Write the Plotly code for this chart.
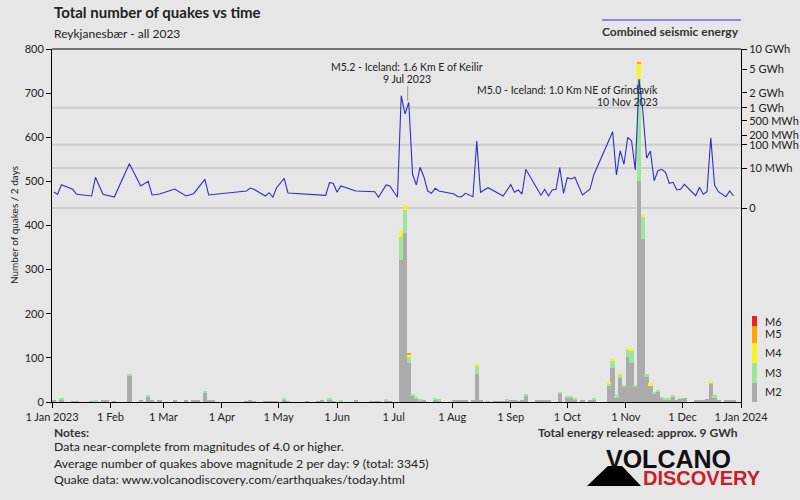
import plotly.graph_objects as go

# ---------------- data ----------------
bar_dates = [
    "2023-01-02", "2023-01-06", "2023-01-12", "2023-01-14", "2023-01-22", "2023-01-24", "2023-01-28", "2023-01-30",
    "2023-02-03", "2023-02-11", "2023-02-17", "2023-02-21", "2023-02-23", "2023-02-27",
    "2023-03-07", "2023-03-13", "2023-03-17", "2023-03-19", "2023-03-23", "2023-03-25", "2023-03-27",
    "2023-04-14", "2023-04-16", "2023-04-18", "2023-04-24", "2023-04-26", "2023-04-28", "2023-04-30",
    "2023-05-04", "2023-05-06", "2023-05-16", "2023-05-22", "2023-05-24", "2023-05-28", "2023-05-30",
    "2023-06-03", "2023-06-11", "2023-06-19", "2023-06-21", "2023-06-23", "2023-06-27", "2023-06-29",
    "2023-07-05", "2023-07-07", "2023-07-09", "2023-07-11", "2023-07-13", "2023-07-15", "2023-07-17",
    "2023-07-23", "2023-07-25",
    "2023-08-02", "2023-08-04", "2023-08-06", "2023-08-08", "2023-08-12", "2023-08-14", "2023-08-16",
    "2023-08-20", "2023-08-24", "2023-08-26", "2023-08-28", "2023-08-30",
    "2023-09-01", "2023-09-03", "2023-09-05", "2023-09-07", "2023-09-09", "2023-09-15", "2023-09-17",
    "2023-09-19", "2023-09-21", "2023-09-27",
    "2023-10-01", "2023-10-03", "2023-10-05", "2023-10-09", "2023-10-13", "2023-10-15",
    "2023-10-23", "2023-10-25", "2023-10-27", "2023-10-29", "2023-10-31",
    "2023-11-02", "2023-11-04", "2023-11-06", "2023-11-08", "2023-11-10", "2023-11-12", "2023-11-14",
    "2023-11-16", "2023-11-18", "2023-11-20", "2023-11-22", "2023-11-24", "2023-11-26", "2023-11-28",
    "2023-11-30",
    "2023-12-02", "2023-12-08", "2023-12-10", "2023-12-12", "2023-12-14", "2023-12-16", "2023-12-18",
    "2023-12-20", "2023-12-24", "2023-12-26", "2023-12-28",
]
m2 = [3, 6, 2, 2, 2, 2, 3, 3,
      2, 60, 3, 13, 3, 3,
      3, 3, 3, 4, 21, 3, 3,
      2, 4, 2, 2, 2, 2, 2,
      6, 2, 2, 2, 3, 5, 2,
      2, 3, 2, 2, 2, 3, 2,
      322, 382, 88, 13, 7, 4, 4,
      6, 4,
      3, 3, 3, 4, 3, 64, 3,
      2, 2, 2, 2, 4,
      3, 3, 2, 3, 14, 3, 4,
      3, 5, 19,
      8, 9, 6, 3, 3, 5,
      38, 76, 11, 54, 35,
      101, 88, 36, 501, 369, 57, 37,
      20, 24, 7, 6, 5, 12, 5,
      7,
      9, 5, 3, 3, 6, 42, 11,
      5, 3, 3, 3]
m3 = [0, 3, 0, 0, 0, 1, 0, 0,
      0, 4, 0, 4, 0, 0,
      0, 0, 0, 0, 3, 0, 0,
      0, 0, 0, 0, 0, 0, 0,
      4, 0, 0, 0, 0, 3, 0,
      2, 0, 0, 0, 0, 3, 0,
      52, 53, 15, 5, 4, 2, 0,
      2, 1,
      0, 0, 0, 0, 0, 19, 0,
      0, 0, 0, 0, 3,
      0, 0, 0, 0, 4, 0, 0,
      0, 0, 4,
      6, 5, 3, 0, 0, 3,
      3, 17, 4, 8, 4,
      17, 29, 3, 231, 51, 6, 1,
      3, 3, 3, 2, 2, 4, 0,
      1,
      0, 0, 0, 0, 0, 2, 4,
      0, 0, 0, 0]
m4 = ([0] * 42 + [14, 12, 4] + [0] * 11 + [4] + [0] * 22
      + [4, 4, 0, 4, 0, 4, 2, 0, 34, 3, 0, 4] + [0] * 13 + [4] + [0] * 5)
m5 = [0] * 44 + [2] + [0] * 42 + [4] + [0] * 22
m6 = [0] * len(bar_dates)

energy_dates = [
    "2023-01-02", "2023-01-04", "2023-01-06", "2023-01-12", "2023-01-14", "2023-01-22", "2023-01-24", "2023-01-28",
    "2023-02-03", "2023-02-11", "2023-02-17", "2023-02-21", "2023-02-23", "2023-02-27",
    "2023-03-07", "2023-03-13", "2023-03-17", "2023-03-23", "2023-03-25",
    "2023-04-14", "2023-04-16", "2023-04-18", "2023-04-24", "2023-04-26", "2023-04-28", "2023-04-30",
    "2023-05-04", "2023-05-06", "2023-05-26", "2023-05-28", "2023-05-30",
    "2023-06-01", "2023-06-03", "2023-06-11", "2023-06-21", "2023-06-23", "2023-06-27", "2023-06-29",
    "2023-07-03", "2023-07-05", "2023-07-07", "2023-07-09", "2023-07-11", "2023-07-13", "2023-07-15",
    "2023-07-17", "2023-07-19", "2023-07-21", "2023-07-23", "2023-07-25",
    "2023-08-02", "2023-08-04", "2023-08-06", "2023-08-08", "2023-08-12", "2023-08-14", "2023-08-16",
    "2023-08-20", "2023-08-28",
    "2023-09-01", "2023-09-03", "2023-09-05", "2023-09-07", "2023-09-09", "2023-09-17", "2023-09-19",
    "2023-09-21", "2023-09-23", "2023-09-25", "2023-09-27", "2023-09-29",
    "2023-10-01", "2023-10-03", "2023-10-05", "2023-10-09", "2023-10-13", "2023-10-15",
    "2023-10-25", "2023-10-27", "2023-10-29", "2023-10-31",
    "2023-11-02", "2023-11-04", "2023-11-06", "2023-11-08", "2023-11-10", "2023-11-12", "2023-11-14",
    "2023-11-16", "2023-11-18", "2023-11-20", "2023-11-22", "2023-11-24", "2023-11-26", "2023-11-28",
    "2023-11-30",
    "2023-12-02", "2023-12-04", "2023-12-08", "2023-12-10", "2023-12-12", "2023-12-14", "2023-12-16",
    "2023-12-18", "2023-12-20", "2023-12-24", "2023-12-26", "2023-12-28",
]
energy_mwh = [
    0.094, 0.048, 0.676, 0.225, 0.048, 0.0245, 2.68, 0.048,
    0.0158, 16.8, 0.507, 1.335, 0.0366, 0.053,
    0.244, 0.0245, 0.0588, 1.92, 0.0366,
    0.14, 0.315, 0.225, 0.0245, 0.0825, 0.0138, 0.339,
    2.27, 0.0747, 0.0325, 1.02, 0.905,
    0.094, 0.507, 0.14, 0.113, 0.0138, 0.633, 0.507,
    0.0138, 1756, 722, 1298, 4.28, 0.633, 11.0,
    2.96, 0.14, 0.0675, 0.292, 0.14,
    0.053, 0.0181, 0.0181, 0.0675, 0.0181, 133, 0.094,
    0.339, 0.0245,
    0.676, 0.094, 0.186, 0.053, 8.54, 0.0325, 0.225,
    0.0245, 0.186, 0.225, 10.46, 0.0675,
    2.51, 2.02, 2.68, 0.0366, 0.225, 3.85,
    254, 3.85, 60.8, 15.7,
    174, 136, 7.8, 3473, 845, 29.8, 59.1,
    1.49, 7.1, 8.54, 5.71, 0.905, 1.10, 0.186,
    0.225,
    0.736, 0.292, 0.0277, 0.374, 0.0475, 0.113, 169,
    0.633, 0.113, 0.0181, 0.14, 0.0245,
]

energy_ticks_mwh = [0, 10, 100, 200, 500, 1000, 2000, 5000, 10000]
energy_tick_text = ["0", "10 MWh", "100 MWh", "200 MWh", "500 MWh", "1 GWh", "2 GWh", "5 GWh", "10 GWh"]
energy_grid_mwh = [0, 10, 100, 1000]

month_ticks = ["2023-01-01", "2023-02-01", "2023-03-01", "2023-04-01", "2023-05-01", "2023-06-01", "2023-07-01",
               "2023-08-01", "2023-09-01", "2023-10-01", "2023-11-01", "2023-12-01", "2024-01-01"]
month_labels = ["1 Jan 2023", "1 Feb", "1 Mar", "1 Apr", "1 May", "1 Jun", "1 Jul", "1 Aug", "1 Sep", "1 Oct",
                "1 Nov", "1 Dec", "1 Jan 2024"]

mag_names = ["M2", "M3", "M4", "M5", "M6"]
mag_colors = ["#ababab", "#9be69b", "#fbf31c", "#ffa500", "#ee2020"]

# ---------------- layout helpers ----------------
PL, PR, PT, PB = 52, 741, 49, 402
W, H = 800, 500
FONT = "Lato"


def px(x):
    return (x - PL) / (PR - PL)


def py(y):
    return (PB - y) / (PB - PT)


def p5(v):
    return v ** 0.2


fig = go.Figure()

for vals, name, col in zip([m2, m3, m4, m5, m6], mag_names, mag_colors):
    fig.add_trace(go.Bar(
        x=bar_dates, y=vals, name=name, marker=dict(color=col, line=dict(width=0)),
        width=2 * 86400000 * 1.15, showlegend=False,
    ))

fig.add_trace(go.Scatter(
    x=energy_dates, y=[p5(e) for e in energy_mwh], yaxis="y2", mode="lines",
    line=dict(color="#2f2fc8", width=1.1), showlegend=False,
))

top_v = p5(energy_ticks_mwh[-1])
# range so that 0 sits at pixel 208
bottom_v = -top_v * (PB - 208) / (208 - PT)

shapes = []
for g in energy_grid_mwh:
    shapes.append(dict(type="line", xref="paper", yref="y2", x0=0, x1=1, y0=p5(g), y1=p5(g),
                       line=dict(color="#cdcdcd", width=2), layer="below"))
# top frame line
shapes.append(dict(type="line", xref="paper", yref="paper", x0=0, x1=1, y0=1, y1=1,
                   line=dict(color="black", width=1)))
# legend line for energy
shapes.append(dict(type="line", xref="paper", yref="paper", x0=px(602), x1=px(741), y0=py(20), y1=py(20),
                   line=dict(color="#2f2fc8", width=1)))
# pointer line to Keilir event
shapes.append(dict(type="line", xref="paper", yref="paper", x0=px(407.7), x1=px(407.7), y0=py(86), y1=py(101),
                   line=dict(color="#999999", width=1)))
# magnitude colour legend
sw = [(316, 326.5), (326.5, 343), (343, 363), (363, 383), (383, 402)]
for (y0, y1), col in zip(sw, mag_colors[::-1]):
    shapes.append(dict(type="rect", xref="paper", yref="paper", x0=px(752), x1=px(757), y0=py(y1), y1=py(y0),
                       fillcolor=col, line=dict(width=0)))
# logo volcano
shapes.append(dict(type="path", xref="paper", yref="paper",
                   path=f"M {px(587)},{py(486)} L {px(641)},{py(486)} L {px(622)},{py(466)} L {px(608)},{py(466)} Z",
                   fillcolor="black", line=dict(width=0)))

ann = []


def txt(text, x, y, size, xanchor="left", bold=False, color="#222222", family=FONT):
    t = f"<b>{text}</b>" if bold else text
    ann.append(dict(text=t, x=px(x), y=py(y), xref="paper", yref="paper", xanchor=xanchor, yanchor="middle",
                    showarrow=False, font=dict(size=size, color=color, family=family)))


txt("Total number of quakes vs time", 52, 12, 15, bold=True)
txt("Reykjanesbær - all 2023", 52, 33, 12)
txt("Combined seismic energy", 741, 32, 12, xanchor="right", bold=True, color="#333333")
txt("M5.2 - Iceland: 1.6 Km E of Keilir", 407, 67, 10.5, xanchor="center")
txt("9 Jul 2023", 407, 79, 10.5, xanchor="center")
txt("M5.0 - Iceland: 1.0 Km NE of Grindavík", 660, 90, 10.5, xanchor="right")
txt("10 Nov 2023", 660, 102, 10.5, xanchor="right")
for lab, y in zip(["M6", "M5", "M4", "M3", "M2"], [321, 333, 352, 372, 391]):
    txt(lab, 763, y, 11)
txt("Notes:", 52, 432, 12, bold=True, color="#333333")
txt("Data near-complete from magnitudes of 4.0 or higher.", 52, 447, 12.3)
txt("Average number of quakes above magnitude 2 per day: 9 (total: 3345)", 52, 463, 12.3)
txt("Quake data: www.volcanodiscovery.com/earthquakes/today.html", 52, 479, 12.3)
txt("Total energy released: approx. 9 GWh", 740, 432, 12, xanchor="right", bold=True, color="#333333")
txt("VOLCANO", 604, 459, 25, bold=True, color="#111111", family="Liberation Sans")
txt("DISCOVERY", 641, 478, 20, bold=True, color="#c8202a", family="Liberation Sans")
ann.append(dict(text="Number of quakes / 2 days", x=px(14), y=py(225), xref="paper", yref="paper",
                textangle=-90, showarrow=False, xanchor="center", yanchor="middle",
                font=dict(size=10, color="#222222", family=FONT)))

fig.update_layout(
    width=W, height=H,
    margin=dict(l=PL, r=W - PR, t=PT, b=H - PB, pad=0, autoexpand=False),
    paper_bgcolor="#e6e6e6", plot_bgcolor="#e6e6e6",
    barmode="stack", bargap=0,
    font=dict(family=FONT, size=11, color="#222222"),
    xaxis=dict(range=["2023-01-01", "2024-01-01"], tickvals=month_ticks, ticktext=month_labels,
               showgrid=False, zeroline=False, showline=True, linecolor="black", linewidth=1,
               ticks="outside", ticklen=5, tickcolor="black", tickfont=dict(size=11), automargin=False),
    yaxis=dict(range=[0, 800], dtick=100, showgrid=False, zeroline=False, showline=True,
               linecolor="black", linewidth=1, ticks="outside", ticklen=5, tickcolor="black",
               tickfont=dict(size=11), automargin=False),
    yaxis2=dict(overlaying="y", side="right", range=[bottom_v, top_v],
                tickvals=[p5(v) for v in energy_ticks_mwh], ticktext=energy_tick_text,
                showgrid=False, zeroline=False, showline=True, linecolor="black", linewidth=1,
                ticks="outside", ticklen=5, tickcolor="black", tickfont=dict(size=11), automargin=False),
    shapes=shapes, annotations=ann,
)

fig.write_html("out.html")
